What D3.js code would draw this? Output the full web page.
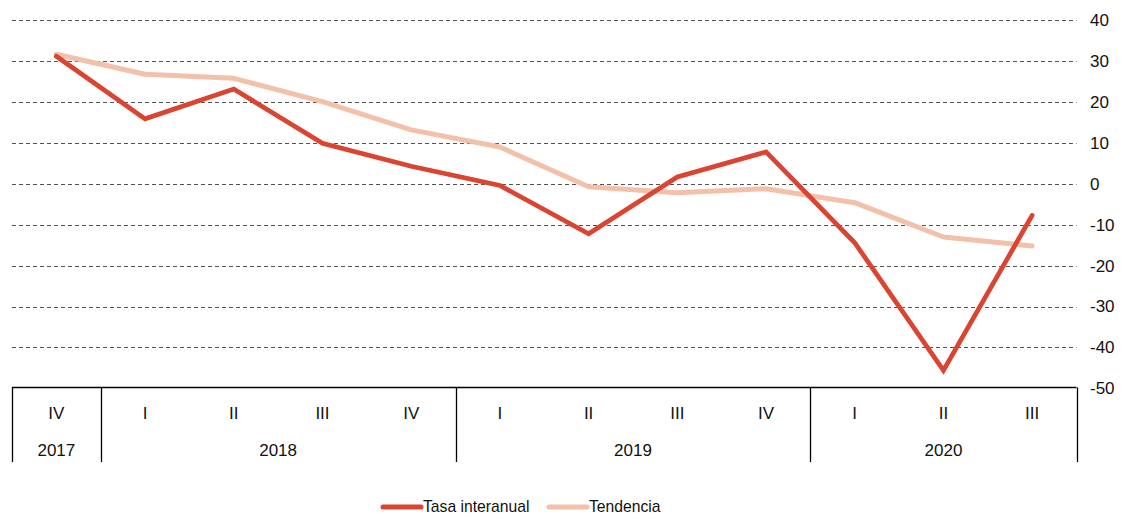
<!DOCTYPE html>
<html><head><meta charset="utf-8">
<script src="https://cdn.jsdelivr.net/npm/d3@7"></script>
<style>body{margin:0;background:#fff;}svg{display:block;font-family:"Liberation Sans",Arial,sans-serif;}</style>
</head><body><svg id="c" width="1121" height="517"></svg>
<script>
const quarters = ["IV","I","II","III","IV","I","II","III","IV","I","II","III"];
const years = [{label:"2017",n:1},{label:"2018",n:4},{label:"2019",n:4},{label:"2020",n:3}];
const tasa = [31.2, 15.9, 23.2, 9.9, 4.3, -0.4, -12.2, 1.7, 7.8, -14.4, -45.6, -7.7];
const tendencia = [31.7, 26.8, 25.8, 20.1, 13.2, 9.0, -0.7, -2.2, -1.2, -4.6, -13.0, -15.2];
const yTicks = [40,30,20,10,0,-10,-20,-30,-40,-50];

(function(){
const svg = d3.select("#c");
const pL = 12, pR = 1076.5, pT = 20.3, pB = 388.3;
const x = d3.scaleBand().domain(d3.range(quarters.length)).range([pL, pR]).padding(0);
const y = d3.scaleLinear().domain([-50, 40]).range([pB, pT]);
const cx = i => x(i) + x.bandwidth()/2;

// gridlines
svg.append("g").selectAll("line").data(yTicks.filter(t => t > -50)).join("line")
  .attr("x1", pL).attr("x2", pR)
  .attr("y1", d => Math.round(y(d)) + 0.5).attr("y2", d => Math.round(y(d)) + 0.5)
  .attr("stroke", "#555").attr("stroke-width", 1).attr("stroke-dasharray", "4,3");

// right axis labels
svg.append("g").selectAll("text").data(yTicks).join("text")
  .attr("x", 1090).attr("y", d => y(d)).attr("dy", "0.35em")
  .attr("font-size", 17).attr("fill", "#111").text(d => d);

// category box
const boxTop = Math.round(y(-50)) - 0.5, boxBot = 462;
svg.append("line").attr("x1", pL).attr("x2", pR).attr("y1", boxTop).attr("y2", boxTop)
  .attr("stroke", "#000").attr("stroke-width", 1.3);
let idx = 0; const seps = [0];
years.forEach(yr => { idx += yr.n; seps.push(idx); });
svg.append("g").selectAll("line").data(seps).join("line")
  .attr("x1", d => Math.round(d === quarters.length ? pR : x(d)) + 0.5)
  .attr("x2", d => Math.round(d === quarters.length ? pR : x(d)) + 0.5)
  .attr("y1", boxTop).attr("y2", boxBot).attr("stroke", "#000").attr("stroke-width", 1.3);
svg.append("g").selectAll("text").data(quarters).join("text")
  .attr("x", (d,i) => cx(i)).attr("y", 413).attr("dy", "0.35em").attr("text-anchor", "middle")
  .attr("font-size", 17).attr("fill", "#111").text(d => d);
let start = 0;
years.forEach(yr => {
  const xs = x(start), xe = (start + yr.n === quarters.length) ? pR : x(start + yr.n);
  svg.append("text").attr("x", (xs + xe)/2).attr("y", 450).attr("dy", "0.35em")
    .attr("text-anchor", "middle").attr("font-size", 17).attr("fill", "#111").text(yr.label);
  start += yr.n;
});

// lines
const line = d3.line().x((d,i) => cx(i)).y(d => y(d));
svg.append("path").datum(tendencia).attr("d", line).attr("fill", "none")
  .attr("stroke", "#f3c1aa").attr("stroke-width", 5).attr("stroke-linejoin", "round").attr("stroke-linecap", "round");
svg.append("path").datum(tasa).attr("d", line).attr("fill", "none")
  .attr("stroke", "#db4431").attr("stroke-width", 4.7).attr("stroke-linejoin", "miter").attr("stroke-linecap", "round");

// legend
const legend = [{name:"Tasa interanual", color:"#db4431", x:381}, {name:"Tendencia", color:"#f3c1aa", x:547}];
const lg = svg.append("g").selectAll("g").data(legend).join("g");
lg.append("line").attr("x1", d => d.x + 2).attr("x2", d => d.x + 40).attr("y1", 507).attr("y2", 507)
  .attr("stroke", d => d.color).attr("stroke-width", 5).attr("stroke-linecap", "round");
lg.append("text").attr("x", d => d.x + 42).attr("y", 507).attr("dy", "0.35em")
  .attr("font-size", 15.7).attr("fill", "#111").text(d => d.name);
})();
</script></body></html>
